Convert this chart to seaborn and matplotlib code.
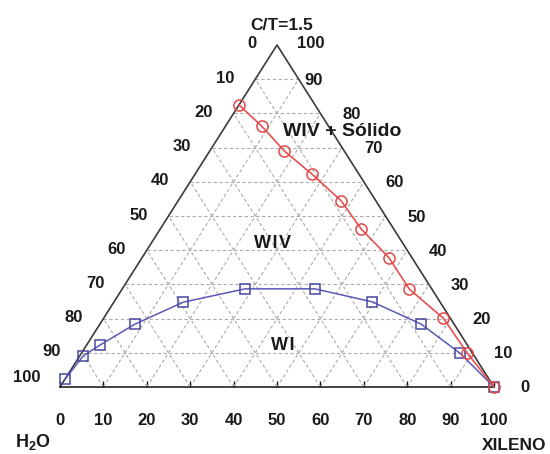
import matplotlib
matplotlib.use("Agg")
import matplotlib.pyplot as plt
import seaborn as sns
import pandas as pd
import numpy as np

# ---- data (percent) ----
# Red boundary (WIV / WIV + Sólido): xileno %, C/T %
red_xileno = [0.0, 8.3, 17.2, 27.0, 37.5, 46.3, 56.9, 66.2, 78.3, 88.9, 100.0]
red_ct = [82.5, 76.3, 69.0, 62.2, 54.5, 46.2, 37.8, 28.6, 20.1, 9.9, 0.0]
# Blue boundary (WI / WIV)
blue_xileno = [0.0, 0.8, 3.1, 8.1, 16.0, 28.3, 44.4, 59.5, 74.0, 87.2, 100.0]
blue_ct = [2.2, 9.1, 12.3, 18.4, 24.8, 28.7, 28.7, 24.9, 18.4, 9.9, 0.0]

tick_vals = [0, 10, 20, 30, 40, 50, 60, 70, 80, 90, 100]
left_labels = ["10", "20", "30", "40", "50", "60", "70", "80", "90", "100"]
right_labels = ["90", "80", "70", "60", "50", "40", "30", "20", "10", "0"]

sns.set_theme(style="white")
plt.rcParams['font.family'] = ['Liberation Sans', 'DejaVu Sans']
plt.rcParams['mathtext.fontset'] = 'custom'
plt.rcParams['mathtext.rm'] = 'Liberation Sans'
plt.rcParams['mathtext.bf'] = 'Liberation Sans:bold'

W, H = 550, 454
fig = plt.figure(figsize=(W / 100, H / 100), dpi=100)
x0, x1, y0, y1 = 60, 494, 387, 45
ax = fig.add_axes([x0 / W, (H - y0) / H, (x1 - x0) / W, (y0 - y1) / H])
ax.set_xlim(0, 100)
ax.set_ylim(0, 100)
ax.patch.set_alpha(0)

def cart(xil, ct):
    xil = np.asarray(xil, float)
    ct = np.asarray(ct, float)
    return xil + ct / 2.0, ct

grid_kw = dict(color="#ababab", lw=0.8, ls=(0, (3, 2.2)), zorder=1)
for k in range(10, 100, 10):
    ax.plot([k / 2, 100 - k / 2], [k, k], **grid_kw)
    ax.plot([k, k + (100 - k) / 2], [0, 100 - k], **grid_kw)
    ax.plot([100 - k, (100 - k) / 2], [0, 100 - k], **grid_kw)

# triangle edges
ax.plot([0, 50, 100], [0, 100, 0], color="#3a3a3a", lw=1.2, zorder=2, clip_on=False)

tc = "#1a1a1a"
fkw = dict(fontsize=12, fontweight="bold", color=tc)

rx, ry = cart(red_xileno, red_ct)
bx, by = cart(blue_xileno, blue_ct)
dfr = pd.DataFrame({"x": rx, "y": ry})
dfb = pd.DataFrame({"x": bx, "y": by})
sns.lineplot(data=dfb, x="x", y="y", sort=False, ax=ax, color="#5a5ab4", lw=1.1,
             marker="s", markersize=7.5, markerfacecolor="none",
             markeredgecolor="#4848a0", markeredgewidth=1.1, zorder=4, clip_on=False)
sns.lineplot(data=dfr, x="x", y="y", sort=False, ax=ax, color="#e85050", lw=1.2,
             marker="o", markersize=8, markerfacecolor="none",
             markeredgecolor="#e04848", markeredgewidth=1.1, zorder=5, clip_on=False)

# bottom axis
for s in ["top", "left", "right"]:
    ax.spines[s].set_visible(False)
ax.spines["bottom"].set_color("#111111")
ax.spines["bottom"].set_linewidth(1.1)
ax.set_xticks(tick_vals)
ax.set_xticklabels([str(v) for v in tick_vals], **fkw)
ax.tick_params(axis="x", direction="in", length=4, width=1, colors="#111111",
               pad=19, bottom=True, labelcolor=tc)
ax.set_yticks([])
ax.set_xlabel("")
ax.set_ylabel("")

# left labels (H2O %), right labels (C/T %)
px_x = 100.0 / (x1 - x0)
px_y = 100.0 / (y0 - y1)
levels = list(range(90, -1, -10))
for lab, c in zip(left_labels, levels):
    ex = c / 2.0
    dy = -9 if lab == "100" else -1
    dx = 33 if lab == "100" else 30
    ax.text(ex - dx * px_x, c - dy * px_y, lab, ha="center", va="center", **fkw)
for lab, c in zip(right_labels, levels):
    ex = 100 - c / 2.0
    off = 15 if lab == "90" else 31
    ax.text(ex + off * px_x, c - 1 * px_y, lab, ha="center", va="center", **fkw)
ax.text(50 - 25 * px_x, 100 + 1 * px_y, "0", ha="center", va="center", **fkw)
ax.text(50 + 34 * px_x, 100 + 1 * px_y, "100", ha="center", va="center", **fkw)

bold = dict(fontweight="bold", color=tc, ha="center", va="center")
fig.text(282 / W, 1 - 25.5 / H, "C/T=1.5", fontsize=12.5, **bold)
fig.text(342 / W, 1 - 131 / H, "WIV + Sólido", fontsize=14, **bold)
fig.text(272 / W, 1 - 243 / H, "W\u200aI\u200aV", fontsize=13, **bold)
fig.text(283 / W, 1 - 345 / H, "W\u200aI", fontsize=13, **bold)
fig.text(33 / W, 1 - 442 / H, "H$_\\mathbf{2}$O", fontsize=13, **bold)
fig.text(546 / W, 1 - 445 / H, "XILENO", fontsize=12.5, fontweight="bold", color=tc,
         ha="right", va="center")

fig.savefig("out.png", dpi=100)
